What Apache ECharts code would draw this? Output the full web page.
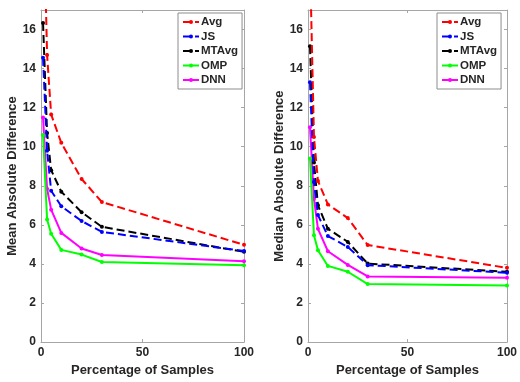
<!DOCTYPE html>
<html><head><meta charset="utf-8">
<script src="https://cdn.jsdelivr.net/npm/echarts@6/dist/echarts.min.js"></script>
<style>html,body{margin:0;padding:0;background:#fff}#c{width:520px;height:382px}</style>
</head><body><div id="c"></div>
<script>
const xPct = [1, 3, 5, 10, 20, 30, 100];
const seriesNames = ['Avg', 'JS', 'MTAvg', 'OMP', 'DNN'];
// Mean absolute difference (left panel)
const meanAvg   = [23.4, 14.7, 11.65, 10.2, 8.35, 7.17, 4.98];
const meanJS    = [14.55, 9.8, 7.75, 6.95, 6.2, 5.64, 4.66];
const meanMTAvg = [16.33, 10.7, 8.8, 7.7, 6.65, 5.9, 4.62];
const meanOMP   = [10.6, 6.28, 5.55, 4.72, 4.48, 4.1, 3.93];
const meanDNN   = [11.5, 7.85, 6.78, 5.59, 4.79, 4.46, 4.14];
// Median absolute difference (right panel)
const medAvg   = [19.5, 10.5, 8.25, 7.05, 6.35, 4.97, 3.8];
const medJS    = [13.3, 8.2, 6.5, 5.43, 4.87, 3.94, 3.55];
const medMTAvg = [15.15, 9.2, 7.0, 5.8, 5.13, 4.02, 3.6];
const medOMP   = [9.4, 5.47, 4.7, 3.9, 3.6, 2.97, 2.9];
const medDNN   = [11.0, 7.33, 5.8, 4.65, 3.95, 3.36, 3.3];
const yTitles = ['Mean Absolute Difference', 'Median Absolute Difference'];
const xTitle = 'Percentage of Samples';

const colors = ['#ff0000', '#0000ff', '#000000', '#00ff00', '#ff00ff'];
const dashed = [true, true, true, false, false];
const panels = [[meanAvg, meanJS, meanMTAvg, meanOMP, meanDNN], [medAvg, medJS, medMTAvg, medOMP, medDNN]];

const font = 'Liberation Sans, Arial, sans-serif';
const axCol = '#a6a6a6';
const txtCol = '#262626';
const grids = [
  {left: 41, right: 276, top: 10, bottom: 38},
  {left: 308, right: 10, top: 10, bottom: 38}
];
const xAxes = [], yAxes = [], series = [], legends = [];
grids.forEach((g, gi) => {
  xAxes.push({
    gridIndex: gi, type: 'value', min: 0, max: 100, interval: 50,
    name: xTitle, nameLocation: 'middle', nameGap: 21,
    nameTextStyle: {fontFamily: font, fontWeight: 'bold', fontSize: 13, color: txtCol},
    axisLine: {show: true, onZero: false, lineStyle: {color: axCol}},
    axisTick: {show: true, inside: true, length: 3, lineStyle: {color: axCol}},
    axisLabel: {fontFamily: font, fontWeight: 'bold', fontSize: 12, color: txtCol, margin: 5},
    splitLine: {show: false}
  });
  xAxes.push({
    gridIndex: gi, type: 'value', position: 'top', min: 0, max: 100, interval: 50,
    axisLine: {show: true, onZero: false, lineStyle: {color: axCol}},
    axisTick: {show: true, inside: true, length: 3, lineStyle: {color: axCol}},
    axisLabel: {show: false}, splitLine: {show: false}
  });
  yAxes.push({
    gridIndex: gi, type: 'value', min: 0, max: 17, interval: 2,
    name: yTitles[gi], nameLocation: 'middle', nameGap: 19,
    nameTextStyle: {fontFamily: font, fontWeight: 'bold', fontSize: 13, color: txtCol},
    axisLine: {show: true, onZero: false, lineStyle: {color: axCol}},
    axisTick: {show: true, inside: true, length: 3, lineStyle: {color: axCol}},
    axisLabel: {fontFamily: font, fontWeight: 'bold', fontSize: 12, color: txtCol, margin: 5, showMaxLabel: false},
    splitLine: {show: false}
  });
  yAxes.push({
    gridIndex: gi, type: 'value', position: 'right', min: 0, max: 17, interval: 2,
    axisLine: {show: true, onZero: false, lineStyle: {color: axCol}},
    axisTick: {show: true, inside: true, length: 3, lineStyle: {color: axCol}},
    axisLabel: {show: false}, splitLine: {show: false}
  });
  seriesNames.forEach((n, si) => {
    series.push({
      name: n, type: 'line', xAxisIndex: gi * 2, yAxisIndex: gi * 2,
      data: xPct.map((x, i) => [x, panels[gi][si][i]]),
      symbol: 'circle', symbolSize: 4, showSymbol: true, clip: true,
      itemStyle: {color: colors[si]},
      lineStyle: {color: colors[si], width: 2, type: dashed[si] ? [8, 4] : 'solid'},
      emphasis: {disabled: true}, animation: false, z: 10 - si
    });
  });
});
legends.push({
  data: seriesNames, orient: 'vertical', left: 178, top: 13, itemWidth: 16, itemHeight: 5, itemGap: 2.5,
  padding: [3, 4, 3, 4], borderColor: '#8c8c8c', borderWidth: 1, backgroundColor: '#fff',
  textStyle: {fontFamily: font, fontWeight: 'bold', fontSize: 11.5, color: txtCol, padding: [0, 0, 0, -3]},
  selectedMode: false
});
legends.push(Object.assign({}, legends[0], {left: 437}));

const chart = echarts.init(document.getElementById('c'), null, {renderer: 'canvas'});
chart.setOption({
  animation: false,
  grid: grids,
  xAxis: xAxes, yAxis: yAxes, legend: legends, series: series
});
</script></body></html>
